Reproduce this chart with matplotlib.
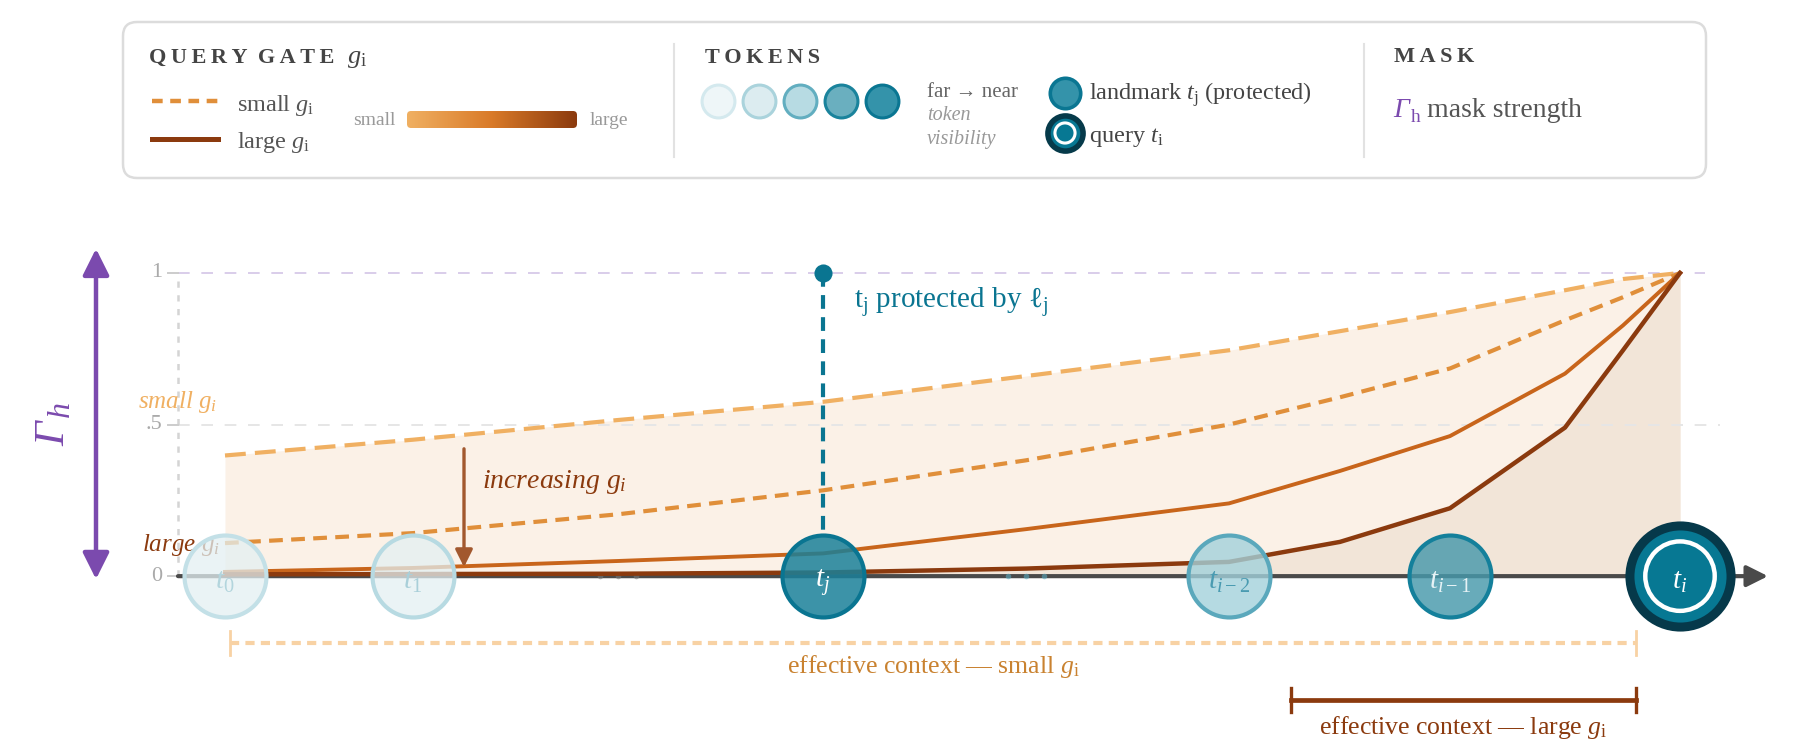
import matplotlib
matplotlib.use("Agg")
import matplotlib.pyplot as plt
import numpy as np
from matplotlib.patches import FancyBboxPatch
from matplotlib.colors import LinearSegmentedColormap

plt.rcParams['font.family'] = ['Liberation Serif', 'DejaVu Serif']
plt.rcParams['mathtext.fontset'] = 'custom'
plt.rcParams['mathtext.rm'] = 'Liberation Serif'
plt.rcParams['mathtext.it'] = 'Liberation Serif:italic'
plt.rcParams['mathtext.bf'] = 'Liberation Serif:bold'

# ---------- data ----------
token_labels = [r'$t_0$', r'$t_1$', r'$t_j$', r'$t_{i-2}$', r'$t_{i-1}$', r'$t_i$']
token_pos = [2.25, 4.13, 8.23, 12.29, 14.50, 16.80]
gap_pos = [6.18, 10.26]          # "..." between tokens

# curve samples (position along sequence -> mask strength)
curve_x = [2.25, 4.13, 6.18, 8.23, 10.26, 12.29, 13.40, 14.50, 15.65, 16.23, 16.80]
g_small = [0.398, 0.45, 0.515, 0.575, 0.66, 0.745, 0.808, 0.871, 0.943, 0.98, 1.0]
g_small_mid = [0.109, 0.142, 0.204, 0.283, 0.382, 0.50, 0.59, 0.685, 0.844, 0.92, 1.0]
g_large_mid = [0.014, 0.027, 0.05, 0.075, 0.155, 0.240, 0.347, 0.462, 0.668, 0.827, 1.0]
g_large = [0.006, 0.007, 0.008, 0.012, 0.025, 0.047, 0.113, 0.224, 0.49, 0.745, 1.0]

y_ticks = [0, 0.5, 1]
y_ticklabels = ['0', '.5', '1']

landmark_idx = 2
ctx_small = [2.30, 16.36]
ctx_large = [12.91, 16.36]

# ---------- colours ----------
C_LIGHT = '#f0b062'
C_MIDD = '#e08f3a'
C_MIDS = '#c8651b'
C_DARK = '#8b3a0e'
C_TEAL = '#0a7591'
C_PURPLE = '#7b4aae'
C_TXT = '#444444'

tok_face = [(0.89, 0.94, 0.95, 0.75), (0.89, 0.94, 0.95, 0.75), (0.10, 0.50, 0.60, 0.85),
            (0.64, 0.82, 0.86, 0.8), (0.28, 0.60, 0.67, 0.82)]
tok_edge = ['#c3e0e7', '#b7dae2', '#0a7591', '#5aa8bc', '#14809b']
tok_text = ['#b3d5dd', '#a9cfd9', 'white', '#4a9bb1', '#e6f2f5']

fig = plt.figure(figsize=(18, 7.52), dpi=100)

# ---------- legend panel (pixel space) ----------
lg = fig.add_axes([0, 0, 1, 1])
lg.set_xlim(0, 1800)
lg.set_ylim(752, 0)
lg.axis('off')

box = FancyBboxPatch((123, 22), 1583, 156, boxstyle='round,pad=0,rounding_size=14',
                     fc='white', ec='#dcdcdc', lw=1.8)
lg.add_patch(box)
for sx in [674, 1364]:
    lg.plot([sx, sx], [44, 157], color='#e2e2e2', lw=1.5)

def spaced(s):
    return '\u2009'.join(s)

lg.text(149, 63, spaced('QUERY') + '  ' + spaced('GATE'), fontsize=16,
        weight='bold', color=C_TXT, va='baseline')
lg.text(347, 63, r'$g_\mathrm{i}$', fontsize=19, color=C_TXT, va='baseline')
lg.plot([152, 218], [101, 101], color=C_MIDD, lw=3.2, dashes=(2.4, 1.7))
lg.text(237, 111, r'small $g_\mathrm{i}$', fontsize=17.5, color='#555555', va='baseline')
lg.plot([152, 218], [139, 139], color=C_DARK, lw=3.6)
lg.text(237, 148, r'large $g_\mathrm{i}$', fontsize=17.5, color='#555555', va='baseline')

lg.text(396, 125, 'small', fontsize=14, color='#999999', va='baseline', ha='right')
grad = np.linspace(0, 1, 256).reshape(1, -1)
gcmap = LinearSegmentedColormap.from_list('gate', [C_LIGHT, '#d97a28', C_DARK])
im = lg.imshow(grad, cmap=gcmap, extent=[407, 577, 128, 111], aspect='auto', zorder=3)
bar = FancyBboxPatch((407, 111), 170, 17, boxstyle='round,pad=0,rounding_size=4',
                     fc='none', ec='none', transform=lg.transData)
lg.add_patch(bar)
im.set_clip_path(bar)
lg.text(590, 125, 'large', fontsize=14, color='#999999', va='baseline')

lg.text(705, 63, spaced('TOKENS'), fontsize=16, weight='bold', color=C_TXT, va='baseline')
leg_face = ['#eef6f8', '#dcecf0', '#b7dbe3', '#6aafbf', '#3493aa']
leg_edge = ['#d4e9ee', '#aad3dc', '#62aec0', '#1a839c', '#0a7692']
for k in range(5):
    lg.scatter(718 + 41 * k, 101, s=560, fc=leg_face[k], ec=leg_edge[k], lw=2.2, zorder=3)
lg.text(927, 97, 'far \u2192 near', fontsize=15, color='#666666', va='baseline')
lg.text(927, 120, 'token', fontsize=14.5, color='#999999', style='italic', va='baseline')
lg.text(927, 144, 'visibility', fontsize=14.5, color='#999999', style='italic', va='baseline')
lg.scatter(1065, 93, s=480, fc='#3493aa', ec='#0a7692', lw=2.6, zorder=3)
lg.text(1089, 100, r'landmark $t_\mathrm{j}$ (protected)', fontsize=17.5, color=C_TXT,
        va='baseline')
lg.scatter(1065, 133, s=640, fc='#077893', ec='#063a4a', lw=4, zorder=3)
lg.scatter(1065, 133, s=210, fc='none', ec='white', lw=2.2, zorder=4)
lg.text(1089, 142, r'query $t_\mathrm{i}$', fontsize=17.5, color=C_TXT, va='baseline')

lg.text(1394, 62, spaced('MASK'), fontsize=16, weight='bold', color=C_TXT, va='baseline')
lg.text(1393, 117, '\u0393', fontsize=20, color=C_PURPLE, style='italic', va='baseline')
lg.text(1411, 122, 'h', fontsize=14, color=C_PURPLE, va='baseline')
lg.text(1427, 117, 'mask strength', fontsize=20, color='#555555', va='baseline')

# ---------- main chart ----------
ax = fig.add_axes([0, 0, 1, 0.6975])
ax.set_xlim(0, 18)
ax.set_ylim(-0.58, 1.15)
ax.axis('off')

xe = token_pos[-1]
ax.fill_between(curve_x, 0, g_small, color='#fbf1e7', lw=0, zorder=1)
ax.fill_between(curve_x, 0, g_large, color='#f2e5d8', lw=0, zorder=1.1)

# grid, ticks
ax.plot([1.78, 17.05], [1, 1], color='#d9cdea', lw=1.4, dashes=(6, 6), zorder=1.5)
ax.plot([1.78, 17.2], [0.5, 0.5], color='#e6e6e6', lw=1.4, dashes=(6, 6), zorder=1.5)
ax.plot([1.78, 1.78], [0, 1], color='#d4d4d4', lw=1.8, dashes=(2.5, 3), zorder=1.5)
for yv, lab in zip(y_ticks, y_ticklabels):
    ax.plot([1.68, 1.78], [yv, yv], color='#cccccc', lw=1.4, zorder=1.5)
    ax.text(1.62, yv, lab, fontsize=16, color='#aaaaaa', ha='right', va='center')

# sequence axis
ax.annotate('', xy=(17.68, 0), xytext=(1.78, 0),
            arrowprops=dict(arrowstyle='-|>', color='#4a4a4a', lw=3,
                            mutation_scale=32, shrinkA=0, shrinkB=0), zorder=2)
for gx in gap_pos:
    col = '#777777' if gx < token_pos[landmark_idx] else '#5aa8bc'
    ax.scatter([gx - 0.18, gx, gx + 0.18], [0, 0, 0], s=16, color=col, alpha=0.6, zorder=2.2, lw=0)

# curves
ax.plot(curve_x, g_small, color=C_LIGHT, lw=3, dashes=(5, 2.2), zorder=3)
ax.plot(curve_x, g_small_mid, color=C_MIDD, lw=3, dashes=(3.3, 2), zorder=3)
ax.plot(curve_x, g_large_mid, color=C_MIDS, lw=2.8, zorder=3, solid_joinstyle='round')
ax.plot(curve_x, g_large, color=C_DARK, lw=3.2, zorder=3.1, solid_joinstyle='round')

# landmark protection
tj = token_pos[landmark_idx]
ax.plot([tj, tj], [1, 0.14], color=C_TEAL, lw=3, dashes=(3.3, 2), zorder=3.5)
ax.scatter([tj], [1], s=170, color=C_TEAL, zorder=3.6, lw=0)
ax.text(tj + 0.31, 0.905, r'$\mathrm{t_j}$ protected by ℓ$_\mathrm{j}$', fontsize=21,
        color=C_TEAL, va='center')

# tokens
for k in range(5):
    ax.scatter(token_pos[k], 0, s=3480, fc=tok_face[k], ec=tok_edge[k], lw=3, zorder=4)
    ax.text(token_pos[k], -0.02, token_labels[k], fontsize=21, color=tok_text[k],
            ha='center', va='center', zorder=4.5)
ax.scatter(xe, 0, s=5300, fc='#077893', ec='#06394a', lw=6.5, zorder=5)
ax.scatter(xe, 0, s=2500, fc='none', ec='white', lw=3.2, zorder=5.1)
ax.text(xe, -0.02, token_labels[-1], fontsize=21, color='white', ha='center', va='center', zorder=5.2)

# labels
ax.annotate('', xy=(0.96, -0.01), xytext=(0.96, 1.08),
            arrowprops=dict(arrowstyle='<|-|>', color=C_PURPLE, lw=3.2,
                            mutation_scale=40, shrinkA=0, shrinkB=0))
ax.text(0.54, 0.47, '\u0393', fontsize=31, color=C_PURPLE, rotation=90, style='italic',
        ha='center', va='center')
ax.text(0.61, 0.55, 'h', fontsize=23, color=C_PURPLE, rotation=90, style='italic',
        ha='center', va='center')
ax.text(1.38, 0.573, r'small $g_i$', fontsize=18, color=C_LIGHT, style='italic', va='center')
ax.text(1.42, 0.102, r'large $g_i$', fontsize=18, color=C_DARK, style='italic', va='center')
ax.annotate('', xy=(4.64, 0.03), xytext=(4.64, 0.42),
            arrowprops=dict(arrowstyle='-|>', color='#a2582e', lw=2.4,
                            mutation_scale=26, shrinkA=0, shrinkB=0), zorder=3.2)
ax.text(4.82, 0.31, r'increasing $g_i$', fontsize=20, color=C_DARK, style='italic', va='center')

# effective context ranges
ys, yl = -0.221, -0.409
ax.plot(ctx_small, [ys, ys], color='#f8d2a4', lw=3, dashes=(2.2, 1.5), zorder=2)
for xv in ctx_small:
    ax.plot([xv, xv], [ys - 0.04, ys + 0.04], color='#f8d2a4', lw=2, zorder=2)
ax.text(np.mean(ctx_small), -0.297, r'effective context — small $g_\mathrm{i}$', fontsize=18.5,
        color='#c98230', ha='center', va='center')
ax.plot(ctx_large, [yl, yl], color=C_DARK, lw=3.4, zorder=2)
for xv in ctx_large:
    ax.plot([xv, xv], [yl - 0.04, yl + 0.04], color=C_DARK, lw=2.4, zorder=2)
ax.text(np.mean(ctx_large), -0.50, r'effective context — large $g_\mathrm{i}$', fontsize=18.5,
        color=C_DARK, ha='center', va='center')

fig.savefig('out.png', dpi=100, facecolor='white')
